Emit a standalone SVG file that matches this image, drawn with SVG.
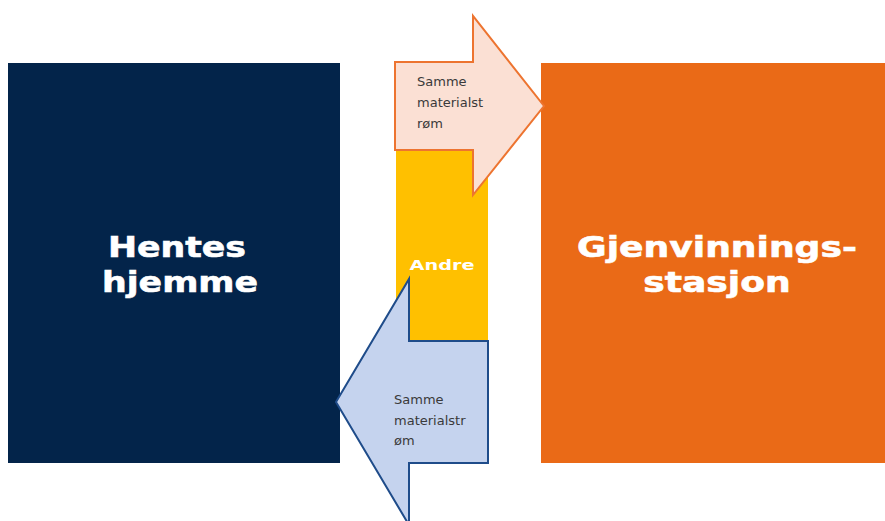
<svg xmlns="http://www.w3.org/2000/svg" width="885" height="521" viewBox="0 0 885 521">
<style>
.big{font-family:"DejaVu Sans","Liberation Sans",sans-serif;font-weight:bold;font-size:28px;fill:#ffffff;stroke:#ffffff;stroke-width:0.6px;text-anchor:middle}
.mid{font-family:"DejaVu Sans","Liberation Sans",sans-serif;font-weight:bold;font-size:14.5px;fill:#ffffff;text-anchor:middle}
.small{font-family:"DejaVu Sans","Liberation Sans",sans-serif;font-size:13px;fill:#3a3a3a}
</style>
<rect x="0" y="0" width="885" height="521" fill="#ffffff"/>
<g id="hentes-hjemme">
<rect x="8" y="63" width="332" height="400" fill="#03244A"/>
<text class="big" transform="translate(177,257) scale(1.24,1)">Hentes</text>
<text class="big" transform="translate(180,292) scale(1.24,1)">hjemme</text>
</g>
<g id="gjenvinningsstasjon">
<rect x="541" y="63" width="344" height="400" fill="#EA6A17"/>
<text class="big" transform="translate(717,257) scale(1.29,1)">Gjenvinnings-</text>
<text class="big" transform="translate(717,292) scale(1.29,1)">stasjon</text>
</g>
<g id="andre">
<rect x="396" y="63" width="92" height="400" fill="#FFC000"/>
<text class="mid" transform="translate(442,270) scale(1.33,1)">Andre</text>
</g>
<g id="connectors">
<g id="arrow-til-gjenvinning">
<polygon points="395,62 473,62 473,16 544,106 473,195 473,150 395,150" fill="#FBE0D4" stroke="#ED7430" stroke-width="2" stroke-linejoin="miter"/>
<text class="small" x="417" y="86">Samme</text>
<text class="small" x="417" y="107">materialst</text>
<text class="small" x="417" y="128">røm</text>
</g>
<g id="arrow-til-hjemme">
<polygon points="488,341 409,341 409,279 336,402 409,525 409,463 488,463" fill="#C5D3EE" stroke="#1F4C8A" stroke-width="2" stroke-linejoin="miter"/>
<text class="small" x="394" y="404">Samme</text>
<text class="small" x="394" y="425">materialstr</text>
<text class="small" x="394" y="445">øm</text>
</g>
</g>
</svg>
